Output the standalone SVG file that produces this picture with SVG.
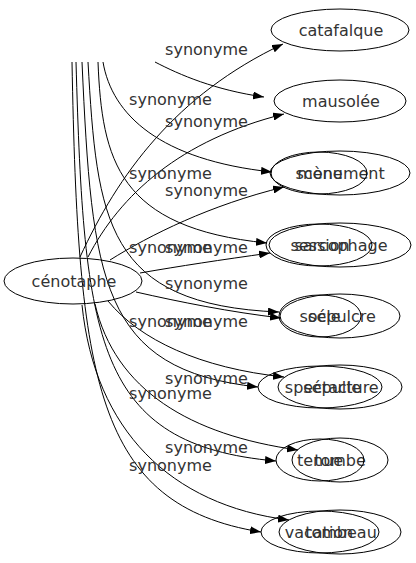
<svg xmlns="http://www.w3.org/2000/svg" width="416" height="563" viewBox="0 0 416 563">
<defs>
<marker id="ah" viewBox="0 0 11 8" refX="11" refY="4" markerWidth="11" markerHeight="8" markerUnits="userSpaceOnUse" orient="auto">
<path d="M0,0 L11,4 L0,8 Z" fill="#000"/>
</marker>
</defs>
<style>
.n{fill:none;stroke:#000;stroke-width:1}
.t{font-family:"DejaVu Sans",sans-serif;font-size:16px;fill:#333;text-anchor:middle}
.e{fill:none;stroke:#000;stroke-width:1;marker-end:url(#ah)}
</style>
<rect width="416" height="563" fill="#fff"/>
<g id="edges">
<path class="e" d="M80,257 C118,175 175,95 283,44"/>
<path class="e" d="M88,257 C120,195 180,140 284,114"/>
<path class="e" d="M110,260 C150,235 210,205 284,187"/>
<path class="e" d="M140,273 C180,266 220,260 270,253"/>
<path class="e" d="M136,292 C180,302 230,312 281,318"/>
<path class="e" d="M108,301 C140,340 200,368 284,377"/>
<path class="e" d="M95,304 C115,390 190,435 298,450"/>
<path class="e" d="M82,305 C95,430 170,505 289,520"/>
<path class="e" d="M155,62 C180,75 215,90 264,97"/>
<path class="e" d="M103,62 C112,115 160,160 272,172"/>
<path class="e" d="M98,62 C102,160 118,228 267,243"/>
<path class="e" d="M88,62 C97,220 105,305 279,312"/>
<path class="e" d="M82,62 C92,280 100,370 258,387"/>
<path class="e" d="M76,62 C84,340 95,445 276,461"/>
<path class="e" d="M72,62 C78,380 95,505 261,532"/>
<g class="t">
<text x="206.5" y="55">synonyme</text>
<text x="206.5" y="127">synonyme</text>
<text x="206.5" y="196">synonyme</text>
<text x="206.5" y="253">synonyme</text>
<text x="206.5" y="289">synonyme</text>
<text x="206.5" y="327">synonyme</text>
<text x="206.5" y="384">synonyme</text>
<text x="206.5" y="453">synonyme</text>
<text x="170.5" y="105">synonyme</text>
<text x="170.5" y="179">synonyme</text>
<text x="170.5" y="253">synonyme</text>
<text x="170.5" y="327">synonyme</text>
<text x="170.5" y="399">synonyme</text>
<text x="170.5" y="471">synonyme</text>
</g>
</g>
<g id="cenotaphe"><ellipse class="n" cx="73" cy="281" rx="69" ry="23"/><text class="t" x="74" y="286.5">cénotaphe</text></g>
<g id="catafalque"><ellipse class="n" cx="340" cy="30" rx="69" ry="21"/><text class="t" x="341" y="35.5">catafalque</text></g>
<g id="mausolee"><ellipse class="n" cx="340" cy="101" rx="66" ry="21"/><text class="t" x="341" y="106.5">mausolée</text></g>
<g id="monument"><ellipse class="n" cx="340" cy="173" rx="70" ry="22"/><text class="t" x="341" y="178.5">monument</text></g>
<g id="scene"><ellipse class="n" cx="319" cy="173" rx="48" ry="21"/><text class="t" x="319" y="178.5">scène</text></g>
<g id="sarcophage"><ellipse class="n" cx="340" cy="245" rx="71" ry="22"/><text class="t" x="341" y="250.5">sarcophage</text></g>
<g id="session"><ellipse class="n" cx="319" cy="245" rx="53" ry="21"/><text class="t" x="320" y="250.5">session</text></g>
<g id="sepulcre"><ellipse class="n" cx="340" cy="316" rx="60" ry="22"/><text class="t" x="342" y="321.5">sépulcre</text></g>
<g id="socle"><ellipse class="n" cx="320" cy="316" rx="41" ry="21"/><text class="t" x="320" y="321.5">socle</text></g>
<g id="sepulture"><ellipse class="n" cx="340" cy="387" rx="62" ry="22"/><text class="t" x="341" y="392.5">sépulture</text></g>
<g id="spectacle"><ellipse class="n" cx="320" cy="387" rx="62" ry="21"/><text class="t" x="323" y="392.5">spectacle</text></g>
<g id="tombe"><ellipse class="n" cx="340" cy="460" rx="48" ry="22"/><text class="t" x="340" y="465.5">tombe</text></g>
<g id="tenue"><ellipse class="n" cx="320" cy="460" rx="44" ry="21"/><text class="t" x="320" y="465.5">tenue</text></g>
<g id="tombeau"><ellipse class="n" cx="340" cy="532" rx="61" ry="22"/><text class="t" x="341" y="537.5">tombeau</text></g>
<g id="vacation"><ellipse class="n" cx="320" cy="532" rx="59" ry="21"/><text class="t" x="319" y="537.5">vacation</text></g>
</svg>
